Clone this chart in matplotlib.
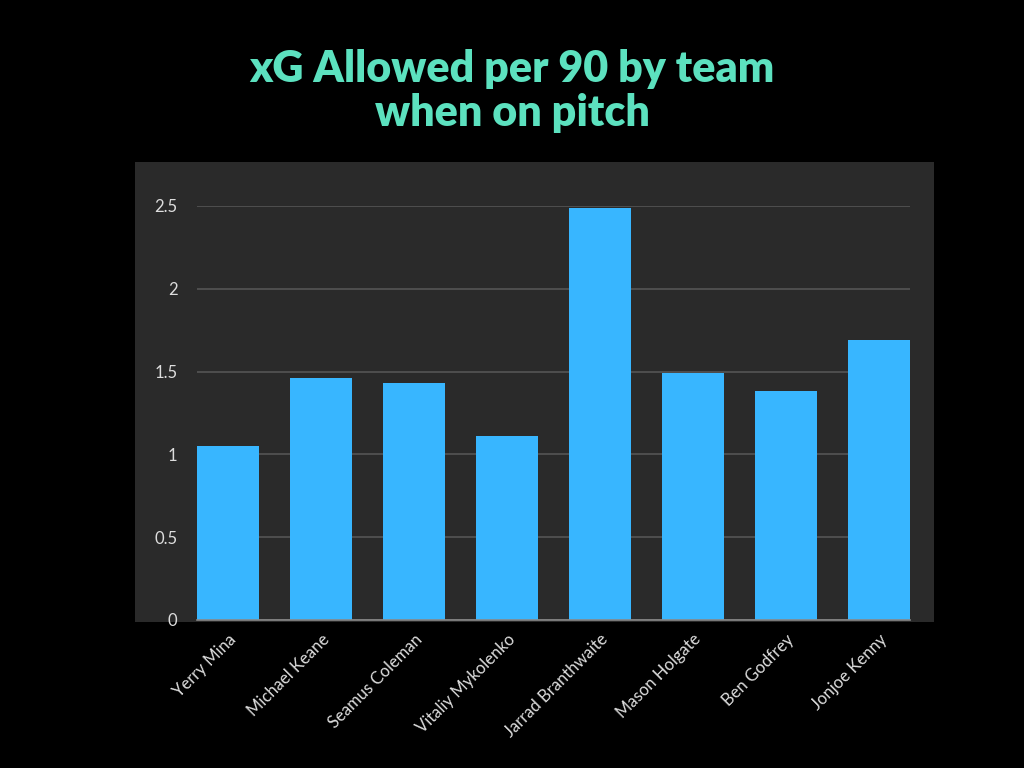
import numpy as np
import matplotlib
matplotlib.use('Agg')
import matplotlib.pyplot as plt
from matplotlib.patches import Rectangle

players = ['Yerry Mina', 'Michael Keane', 'Seamus Coleman', 'Vitaliy Mykolenko',
           'Jarrad Branthwaite', 'Mason Holgate', 'Ben Godfrey', 'Jonjoe Kenny']
xg_allowed = [1.05, 1.46, 1.43, 1.11, 2.49, 1.49, 1.38, 1.69]
yticks = [0, 0.5, 1, 1.5, 2, 2.5]
ytick_labels = ['0', '0.5', '1', '1.5', '2', '2.5']

fig = plt.figure(figsize=(10.24, 7.68), dpi=100, facecolor='black')

# dark panel behind the plot
fig.patches.append(Rectangle((135 / 1024, 1 - 622 / 768), 799 / 1024, 460 / 768,
                             transform=fig.transFigure, facecolor='#2a2a2a',
                             edgecolor='none', zorder=-1))

ax = fig.add_axes([197 / 1024, 1 - 620 / 768, 713 / 1024, 414 / 768])
ax.set_facecolor('none')
ax.set_zorder(1)

x = np.arange(len(players))
ax.bar(x, xg_allowed, width=0.667, color='#38b6ff', zorder=3)
ax.set_xlim(-0.333, len(players) - 1 + 0.333)
ax.set_ylim(0, 2.5)

ax.set_yticks(yticks)
ax.set_yticklabels(ytick_labels, color='#dddddd', fontsize=12, family='Lato')
ax.yaxis.grid(True, color='#555555', linewidth=1.2, zorder=0)
ax.set_xticks(x)
ax.set_xticklabels(players, rotation=45, ha='right', rotation_mode='anchor',
                   color='#dddddd', fontsize=12, family='Lato')
ax.tick_params(length=0, pad=14)
ax.tick_params(axis='x', pad=8)
for s in ['top', 'right', 'left']:
    ax.spines[s].set_visible(False)
ax.spines['bottom'].set_color('#888888')
ax.spines['bottom'].set_linewidth(1.2)
ax.spines['bottom'].set_zorder(4)

fig.text(0.5, 1 - 91 / 768, 'xG Allowed per 90 by team\nwhen on pitch', ha='center',
         va='center', color='#5ce1bf', fontsize=31, fontweight='heavy',
         family='Lato', linespacing=1.1)

plt.savefig('out.png', dpi=100, facecolor='black')
